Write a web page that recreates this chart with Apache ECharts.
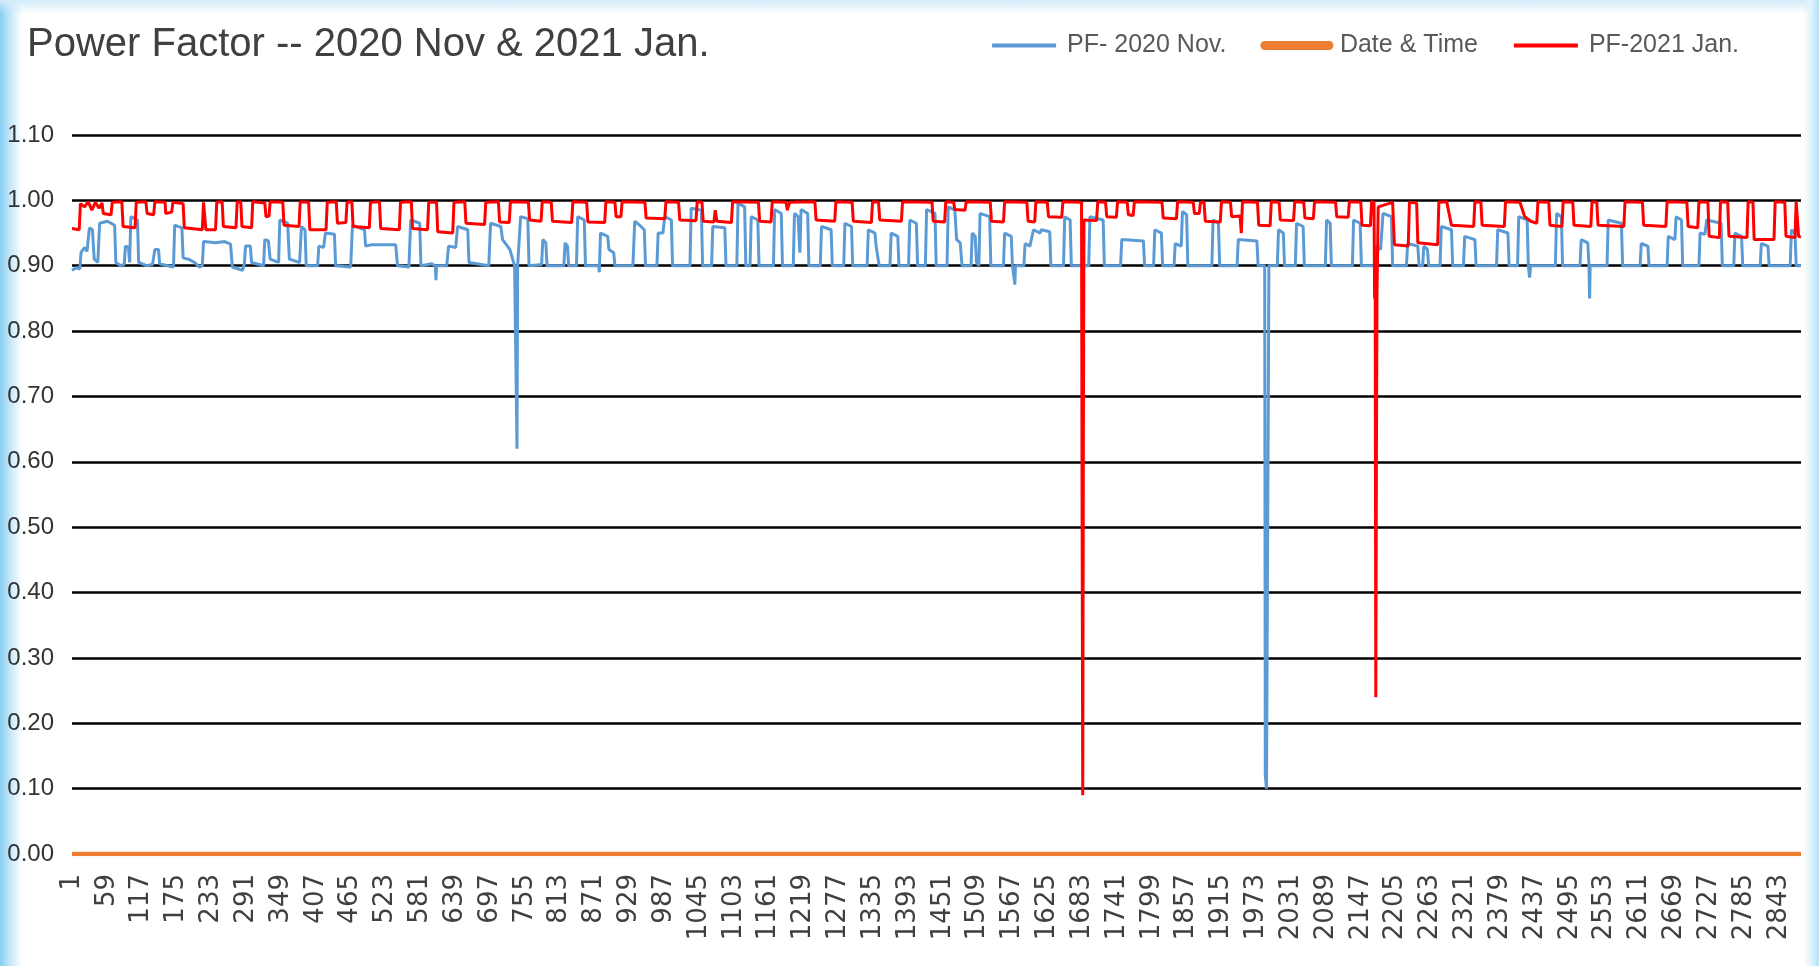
<!DOCTYPE html>
<html>
<head>
<meta charset="utf-8">
<script src="https://cdn.jsdelivr.net/npm/echarts@6/dist/echarts.min.js"></script>
<style>
  html, body { margin: 0; padding: 0; background: #ffffff; }
  #wrap { position: relative; width: 1819px; height: 966px; background: #ffffff; }
  #wrap:before { content: ""; position: absolute; left: 0; top: 0; bottom: 0; width: 22px;
    background: linear-gradient(to right, #86cdf1 0%, #c4e7f8 45%, rgba(255,255,255,0) 100%); }
  #wrap:after { content: ""; position: absolute; right: 0; top: 0; bottom: 0; width: 16px;
    background: linear-gradient(to left, #b5e0f6 0%, #e2f3fb 50%, rgba(255,255,255,0) 100%); }
  #topband { position: absolute; left: 0; right: 0; top: 0; height: 14px;
    background: linear-gradient(to bottom, #d3ecf9 0%, rgba(255,255,255,0) 100%); }
  #chart { position: absolute; left: 0; top: 0; width: 1819px; height: 966px; z-index: 1; }
</style>
</head>
<body>
<div id="wrap"><div id="topband"></div><div id="chart"></div></div>
<script>
// ---- data: [sample index, power factor] ----
const seriesNames = ['PF- 2020 Nov.', 'Date & Time', 'PF-2021 Jan.'];

const xTickLabels = [1,59,117,175,233,291,349,407,465,523,581,639,697,755,813,871,929,987,1045,1103,1161,1219,1277,1335,1393,1451,1509,1567,1625,1683,1741,1799,1857,1915,1973,2031,2089,2147,2205,2263,2321,2379,2437,2495,2553,2611,2669,2727,2785,2843];

const pfNov2020 = [
[1,0.893],[8,0.897],[14,0.895],[16,0.92],[22,0.928],[26,0.922],[30,0.958],[35,0.955],[38,0.91],[44,0.905],[47,0.965],[60,0.968],[72,0.962],[74,0.905],[82,0.9],[88,0.902],[90,0.93],[95,0.928],[97,0.905],[99,0.975],[110,0.97],[112,0.905],[125,0.9],[135,0.902],[139,0.925],[145,0.925],[147,0.903],[160,0.9],[170,0.898],[172,0.962],[184,0.958],[186,0.912],[195,0.91],[205,0.905],[213,0.898],[218,0.9],[220,0.937],[240,0.935],[255,0.937],[265,0.933],[268,0.898],[285,0.893],[288,0.903],[290,0.93],[298,0.93],[300,0.905],[320,0.9],[322,0.94],[328,0.938],[331,0.91],[345,0.905],[347,0.97],[360,0.965],[363,0.91],[380,0.905],[383,0.96],[389,0.955],[391,0.9],[410,0.9],[412,0.93],[420,0.928],[423,0.95],[438,0.948],[440,0.9],[465,0.898],[468,0.962],[488,0.955],[490,0.93],[500,0.932],[503,0.93],[540,0.932],[543,0.9],[562,0.898],[565,0.97],[580,0.965],[582,0.9],[600,0.903],[606,0.9],[607,0.878],[608,0.9],[625,0.9],[628,0.93],[640,0.928],[643,0.96],[660,0.955],[662,0.905],[695,0.9],[698,0.965],[715,0.96],[718,0.94],[730,0.925],[738,0.9],[741,0.9],[742,0.62],[743,0.9],[748,0.975],[760,0.972],[762,0.9],[783,0.902],[785,0.94],[790,0.935],[792,0.9],[820,0.9],[822,0.935],[826,0.93],[828,0.9],[841,0.9],[843,0.975],[854,0.97],[856,0.9],[878,0.9],[879,0.89],[881,0.95],[893,0.945],[895,0.925],[903,0.92],[905,0.9],[935,0.9],[938,0.968],[946,0.962],[954,0.955],[956,0.9],[975,0.9],[977,0.95],[985,0.95],[988,0.975],[999,0.97],[1001,0.9],[1030,0.9],[1032,0.988],[1049,0.985],[1051,0.9],[1066,0.9],[1068,0.96],[1088,0.958],[1090,0.9],[1108,0.9],[1110,0.996],[1121,0.99],[1123,0.9],[1130,0.9],[1132,0.975],[1143,0.97],[1145,0.9],[1169,0.9],[1171,0.986],[1182,0.98],[1184,0.9],[1202,0.9],[1204,0.98],[1210,0.975],[1213,0.92],[1215,0.986],[1226,0.98],[1228,0.9],[1247,0.9],[1249,0.96],[1265,0.955],[1267,0.9],[1286,0.9],[1288,0.965],[1299,0.96],[1301,0.9],[1325,0.9],[1327,0.955],[1338,0.95],[1340,0.93],[1345,0.9],[1363,0.9],[1365,0.95],[1376,0.945],[1378,0.9],[1394,0.9],[1396,0.97],[1407,0.965],[1409,0.9],[1422,0.9],[1424,0.986],[1438,0.98],[1440,0.9],
[1458,0.9],[1460,0.99],[1471,0.985],[1474,0.94],[1480,0.935],[1483,0.9],[1498,0.9],[1500,0.95],[1505,0.945],[1507,0.905],[1511,0.9],[1513,0.98],[1529,0.975],[1531,0.9],[1552,0.9],[1554,0.95],[1565,0.945],[1567,0.9],[1570,0.9],[1571,0.871],[1572,0.9],[1586,0.9],[1588,0.934],[1596,0.93],[1602,0.955],[1613,0.95],[1615,0.955],[1629,0.952],[1631,0.9],[1652,0.9],[1654,0.975],[1663,0.97],[1665,0.9],[1694,0.9],[1696,0.975],[1718,0.97],[1720,0.9],[1747,0.9],[1749,0.94],[1785,0.938],[1787,0.9],[1802,0.9],[1804,0.955],[1815,0.95],[1817,0.9],[1836,0.9],[1838,0.934],[1848,0.93],[1850,0.983],[1857,0.978],[1859,0.9],[1899,0.9],[1901,0.97],[1910,0.965],[1912,0.9],[1941,0.9],[1943,0.94],[1974,0.938],[1976,0.9],[1987,0.9],[1988,0.12],[1990,0.10],[1993,0.10],[1994,0.9],[2008,0.9],[2010,0.955],[2018,0.95],[2020,0.9],[2038,0.9],[2040,0.965],[2051,0.96],[2053,0.9],[2088,0.9],[2090,0.97],[2096,0.965],[2098,0.9],[2133,0.9],[2135,0.97],[2146,0.965],[2148,0.9],[2170,0.9],
[2172,0.93],[2180,0.925],[2184,0.98],[2198,0.975],[2200,0.9],[2223,0.9],[2225,0.934],[2242,0.93],[2244,0.9],[2250,0.9],[2252,0.93],[2258,0.925],[2260,0.9],[2279,0.9],[2281,0.96],[2298,0.955],[2300,0.9],[2318,0.9],[2320,0.945],[2337,0.94],[2339,0.9],[2373,0.9],[2375,0.955],[2392,0.95],[2394,0.9],[2408,0.9],[2410,0.975],[2424,0.97],[2426,0.9],[2428,0.882],[2430,0.9],[2471,0.9],[2473,0.98],[2481,0.975],[2483,0.9],[2512,0.9],[2514,0.94],[2525,0.935],[2527,0.9],[2528,0.85],[2529,0.9],[2557,0.9],[2559,0.97],[2581,0.965],[2583,0.9],[2612,0.9],[2614,0.934],[2625,0.93],[2627,0.9],[2657,0.9],[2659,0.945],[2670,0.94],[2672,0.975],[2681,0.97],[2683,0.9],[2710,0.9],[2712,0.95],[2720,0.948],[2723,0.97],[2747,0.965],[2749,0.9],[2768,0.9],[2770,0.95],[2781,0.945],[2783,0.9],[2812,0.9],[2814,0.934],[2825,0.93],[2827,0.9],[2862,0.9],[2864,0.955],[2870,0.95],[2872,0.9],[2880,0.9]
];

const dateTime = [[1,0],[2880,0]];

const pfJan2021 = [
[1,0.957],[13,0.955],[15,0.995],[22,0.99],[28,0.998],[34,0.985],[40,0.997],[46,0.988],[51,0.996],[53,0.98],[66,0.978],[68,0.997],[84,0.998],[86,0.96],[106,0.958],[108,0.997],[124,0.998],[126,0.98],[137,0.978],[139,0.998],[156,0.997],[157,0.98],[167,0.982],[169,0.997],[186,0.995],[188,0.958],[218,0.955],[220,0.997],[222,0.995],[224,0.955],[240,0.955],[242,0.997],[251,0.998],[253,0.96],[274,0.958],[276,0.997],[282,0.998],[284,0.96],[300,0.958],[302,0.998],[322,0.996],[324,0.975],[329,0.976],[331,0.998],[352,0.997],[354,0.962],[379,0.96],[381,0.998],[395,0.997],[397,0.955],[424,0.955],[426,0.997],[441,0.998],[443,0.965],[457,0.966],[459,0.997],[467,0.998],[469,0.96],[496,0.958],[498,0.997],[513,0.998],[515,0.957],[546,0.955],[548,0.997],[566,0.998],[568,0.957],[593,0.955],[595,0.997],[608,0.997],[610,0.952],[635,0.95],[637,0.997],[655,0.998],[657,0.965],[688,0.963],[690,0.997],[711,0.998],[713,0.967],
[729,0.966],[731,0.998],[761,0.997],[763,0.97],[782,0.968],[784,0.998],[799,0.997],[801,0.968],[833,0.966],[835,0.998],[858,0.997],[860,0.967],[888,0.966],[890,0.998],[905,0.997],[907,0.975],[915,0.975],[917,0.998],[955,0.997],[957,0.973],[988,0.972],[990,0.998],[1011,0.997],[1013,0.97],[1040,0.969],[1042,0.998],[1050,0.997],[1052,0.968],[1070,0.967],[1072,0.985],[1075,0.968],[1099,0.966],[1101,0.998],[1144,0.997],[1146,0.968],[1165,0.967],[1167,0.998],[1190,0.997],[1192,0.985],[1196,0.997],[1238,0.998],[1240,0.97],[1271,0.968],[1273,0.998],[1300,0.997],[1302,0.968],[1332,0.966],[1334,0.998],[1344,0.997],[1346,0.97],[1382,0.968],[1384,0.998],[1433,0.997],[1435,0.968],
[1454,0.967],[1456,0.998],[1469,0.997],[1471,0.986],[1488,0.985],[1490,0.998],[1530,0.997],[1532,0.968],[1552,0.967],[1554,0.998],[1591,0.997],[1593,0.968],[1604,0.967],[1606,0.998],[1625,0.997],[1627,0.975],[1649,0.974],[1651,0.998],[1682,0.997],[1683,0.5],[1684,0.09],[1685,0.6],[1686,0.97],[1707,0.969],[1709,0.998],[1722,0.997],[1724,0.975],[1740,0.974],[1742,0.998],[1758,0.997],[1760,0.978],[1768,0.977],[1770,0.998],[1816,0.997],[1818,0.973],[1840,0.972],[1842,0.998],[1868,0.997],[1870,0.98],[1878,0.98],[1880,0.997],[1886,0.997],[1888,0.968],[1913,0.967],[1915,0.998],[1930,0.997],[1932,0.975],[1946,0.976],[1948,0.95],[1950,0.998],[1975,0.997],[1977,0.962],[1996,0.961],[1998,0.998],[2011,0.997],[2013,0.97],[2035,0.969],[2037,0.998],[2052,0.997],[2054,0.973],[2068,0.972],[2070,0.998],[2105,0.997],[2107,0.975],[2126,0.974],[2128,0.998],[2147,0.997],[2149,0.962],[2163,0.961],[2165,0.998],[2169,0.997],[2170,0.85],[2171,0.86],[2172,0.24],[2173,0.6],[2174,0.86],[2176,0.99],
[2200,0.997],[2203,0.932],[2226,0.93],[2228,0.997],[2240,0.996],[2242,0.935],[2275,0.932],[2277,0.997],[2290,0.998],[2298,0.962],[2335,0.96],[2337,0.998],[2347,0.997],[2349,0.962],[2386,0.96],[2388,0.998],[2412,0.997],[2420,0.975],[2430,0.968],[2440,0.965],[2442,0.998],[2460,0.997],[2462,0.962],[2482,0.96],[2484,0.998],[2500,0.997],[2502,0.962],[2530,0.96],[2532,0.998],[2540,0.997],[2542,0.962],[2585,0.96],[2587,0.998],[2616,0.997],[2618,0.962],[2655,0.96],[2657,0.998],[2690,0.997],[2692,0.96],[2708,0.958],[2710,0.998],[2725,0.997],[2727,0.945],[2744,0.943],[2746,0.998],[2758,0.997],[2760,0.945],[2790,0.943],[2792,0.998],[2800,0.997],[2802,0.94],[2835,0.94],[2837,0.998],[2853,0.997],[2855,0.945],[2870,0.943],[2872,0.998],[2876,0.945],[2880,0.944]
];

const FONT = '"Liberation Sans", Arial, sans-serif';

const chart = echarts.init(document.getElementById('chart'), null, { renderer: 'canvas' });
chart.setOption({
  animation: false,
  backgroundColor: 'transparent',
  title: {
    text: 'Power Factor -- 2020 Nov & 2021 Jan.',
    left: 22, top: 20,
    textStyle: { fontFamily: FONT, fontSize: 40, fontWeight: 'normal', color: '#404040' }
  },
  legend: {
    right: 75, top: 28,
    itemWidth: 64, itemHeight: 14, itemGap: 34,
    textStyle: { fontFamily: FONT, fontSize: 25, color: '#595959', padding: [0, 0, 0, 6] },
    data: [
      { name: seriesNames[0], itemStyle: { opacity: 0 }, lineStyle: { width: 4, color: '#5b9bd5' } },
      { name: seriesNames[1], itemStyle: { opacity: 0 }, lineStyle: { width: 9, color: '#ed7d31', cap: 'round' } },
      { name: seriesNames[2], itemStyle: { opacity: 0 }, lineStyle: { width: 4, color: '#ff0000' } }
    ]
  },
  grid: { left: 72, right: 18, top: 135, bottom: 112, containLabel: false },
  xAxis: {
    type: 'value',
    min: 1, max: 2880,
    axisLine: { show: false },
    axisTick: { show: false },
    splitLine: { show: false },
    axisLabel: {
      customValues: xTickLabels,
      rotate: 90, margin: 20,
      fontFamily: '"DejaVu Sans", sans-serif', fontSize: 26, color: '#404040',
      formatter: v => String(v)
    }
  },
  yAxis: {
    type: 'value',
    min: 0, max: 1.1, interval: 0.1,
    axisLine: { show: false },
    axisTick: { show: false },
    splitLine: { lineStyle: { color: '#000000', width: 2.5 } },
    axisLabel: {
      margin: 18,
      fontFamily: FONT, fontSize: 24, color: '#333333',
      formatter: v => v.toFixed(2)
    }
  },
  series: [
    { name: seriesNames[0], type: 'line', data: pfNov2020, symbol: 'none', z: 2,
      lineStyle: { color: '#5b9bd5', width: 3 }, itemStyle: { color: '#5b9bd5' } },
    { name: seriesNames[1], type: 'line', data: dateTime, symbol: 'none', z: 3,
      lineStyle: { color: '#ed7d31', width: 4.5 }, itemStyle: { color: '#ed7d31' } },
    { name: seriesNames[2], type: 'line', data: pfJan2021, symbol: 'none', z: 4,
      lineStyle: { color: '#ff0000', width: 3 }, itemStyle: { color: '#ff0000' } }
  ]
});
</script>
</body>
</html>
